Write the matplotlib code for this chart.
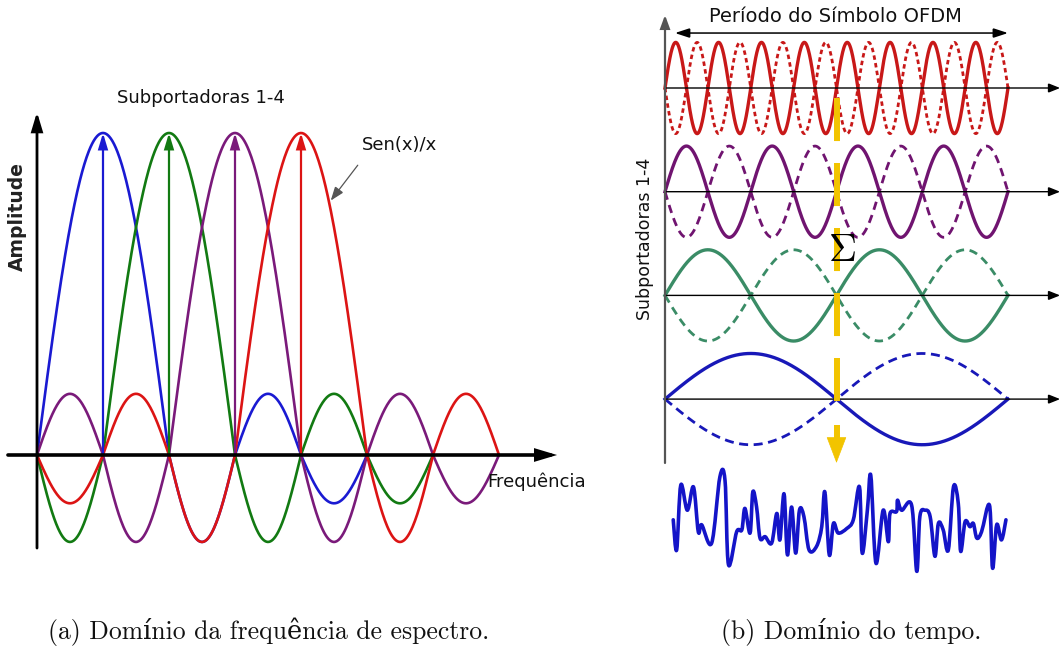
import numpy as np
import matplotlib
matplotlib.use('Agg')
import matplotlib.pyplot as plt
from matplotlib.patches import FancyArrowPatch, PathPatch
from matplotlib.path import Path
from matplotlib import font_manager

plt.rcParams['mathtext.fontset'] = 'cm'
plt.rcParams['lines.scale_dashes'] = False

# ---------------- data ----------------
# (a) spectrum: four overlapping sinc-like subcarriers
spec_centers = [1, 2, 3, 4]                       # peak positions (subcarrier spacing units)
spec_colors = ['#1a1ad2', '#127a12', '#7a1a7a', '#dc1414']
main_amp = 1.0
sidelobe_amps = [-0.27, 0.19, -0.15]              # successive side lobes
freq_min, freq_max = 0, 7

# (b) time domain: subcarriers 1-4 (top to bottom)
time_cycles = [8, 4, 2, 1]
time_colors = ['#c81818', '#701470', '#3a8c66', '#1818b8']
time_dash = [(3.2, 2.4), (6.0, 4.0), (6.0, 4.0), (6.5, 4.0)]
time_amp = 0.44

# summed OFDM signal
noise_t = [0.024, 0.034, 0.046, 0.065, 0.083, 0.097, 0.107, 0.136, 0.160, 0.175,
           0.185, 0.209, 0.224, 0.233, 0.248, 0.256, 0.267, 0.277, 0.292, 0.311,
           0.326, 0.335, 0.347, 0.357, 0.369, 0.381, 0.392, 0.405, 0.420, 0.442,
           0.457, 0.466, 0.479, 0.491, 0.505, 0.530, 0.549, 0.567, 0.575, 0.590,
           0.600, 0.615, 0.636, 0.651, 0.656, 0.675, 0.678, 0.690, 0.719, 0.734,
           0.743, 0.758, 0.773, 0.787, 0.797, 0.811, 0.826, 0.841, 0.855, 0.862,
           0.875, 0.889, 0.899, 0.909, 0.923, 0.946, 0.955, 0.967, 0.981, 0.994]
noise_amp = [0.07, -0.59, 0.83, 0.28, 0.79, -0.19, -0.04, -0.44, 1.01, 0.93,
             -0.91, -0.19, -0.15, 0.32, -0.22, 0.68, 0.35, -0.33, -0.30, -0.44,
             0.21, -0.37, 0.64, -0.70, 0.35, -0.66, 0.28, 0.14, -0.59, -0.51,
             -0.08, 0.68, -0.70, -0.01, -0.22, -0.12, 0.07, 0.79, -0.66, 0.28,
             1.04, -0.88, 0.28, -0.41, 0.21, 0.25, 0.50, 0.28, 0.39, -1.06,
             0.14, 0.28, 0.14, -0.73, -0.01, -0.15, -0.59, 0.79, 0.43, -0.62,
             0.03, -0.08, -0.01, -0.33, -0.19, 0.39, -0.99, -0.04, -0.37, 0.07]

# ---------------- figure ----------------
W, H = 1062, 646
fig = plt.figure(figsize=(W / 100, H / 100), dpi=100)
fig.patch.set_facecolor('white')

# narrow font for the spectrum labels if available
_names = {f.name for f in font_manager.fontManager.ttflist}
if 'Liberation Sans Narrow' in _names:
    narrow = dict(family='Liberation Sans Narrow', fontsize=15.5)
else:
    narrow = dict(family='DejaVu Sans', fontsize=13)


def arrow(ax, p0, p1, style, ms, color, lw, z=5):
    ax.add_patch(FancyArrowPatch(p0, p1, arrowstyle=style, mutation_scale=ms, color=color,
                                 lw=lw, shrinkA=0, shrinkB=0, zorder=z, joinstyle='miter'))


# ----- (a) frequency domain -----
ax1 = fig.add_axes([0, (H - 560) / H, 600 / W, 480 / H])
ax1.set_xlim(-37 / 66, (600 - 37) / 66)
ax1.set_ylim((455 - 560) / 322, (455 - 80) / 322)
ax1.axis('off')


def sinc_like(u, c):
    d = u - c
    y = np.zeros_like(u)
    m = np.abs(d) <= 1
    y[m] = main_amp * np.cos(np.pi * d[m] / 2)
    for k, a in enumerate(sidelobe_amps, start=1):
        m = (np.abs(d) > k) & (np.abs(d) <= k + 1)
        y[m] = a * np.abs(np.sin(np.pi * d[m]))
    return y


for c, col in zip(spec_centers, spec_colors):
    lo = max(freq_min, c - 1 - len(sidelobe_amps))
    hi = min(freq_max, c + 1 + len(sidelobe_amps))
    u = np.linspace(lo, hi, 600)
    ax1.plot(u, sinc_like(u, c), color=col, lw=1.9, solid_capstyle='round', zorder=3)
    arrow(ax1, (c, 0), (c, main_amp), '-|>,head_length=0.5,head_width=0.15', 18, col, 1.6, 4)

# axes arrows
arrow(ax1, (0, -0.289), (0, 1.065), '-|>,head_length=0.6,head_width=0.18', 18, 'black', 2.0)
arrow(ax1, (-0.44, 0), (7.88, 0), '-|>,head_length=0.6,head_width=0.18', 18, 'black', 2.6)

ax1.text(-0.29, 0.74, 'Amplitude', rotation=90, ha='center', va='center', fontsize=13.5,
         fontweight='bold', color='#222222')
ax1.text(2.48, 1.11, 'Subportadoras 1-4', ha='center', va='center', color='#111111', **narrow)
ax1.text(4.92, 0.963, 'Sen(x)/x', ha='left', va='center', color='#111111', **narrow)
ax1.text(6.82, -0.084, 'Frequência', ha='left', va='center', color='#111111', **narrow)
arrow(ax1, (4.86, 0.90), (4.45, 0.79), '-|>,head_length=0.6,head_width=0.22', 14, '#555555', 0.9, 6)

# ----- (b) time domain -----
ax2 = fig.add_axes([630 / W, (H - 600) / H, 432 / W, 600 / H])
ax2.set_xlim(-35 / 343, 397 / 343)
ax2.set_ylim((600 - 88) / 103.7, -88 / 103.7)
ax2.axis('off')

t = np.linspace(0, 1, 1200)
for row, (n, col, dsh) in enumerate(zip(time_cycles, time_colors, time_dash)):
    ax2.plot(t, row + time_amp * np.sin(2 * np.pi * n * t), color=col, lw=2.0,
             linestyle=(0, dsh), zorder=3)
    ax2.plot(t, row - time_amp * np.sin(2 * np.pi * n * t), color=col, lw=2.4, zorder=3)
    arrow(ax2, (0, row), (1.152, row), '-|>,head_length=0.5,head_width=0.2', 14, 'black', 1.0, 4)

# vertical axis
arrow(ax2, (0, 3.616), (0, -0.704), '-|>,head_length=0.55,head_width=0.2', 14, '#555555', 1.6, 4)
# symbol period arrow
arrow(ax2, (0.029, -0.53), (1.0, -0.53), '<|-|>,head_length=0.55,head_width=0.18', 16, 'black', 1.1, 4)
ax2.text(0.496, -0.685, 'Período do Símbolo OFDM', ha='center', va='center', fontsize=14,
         color='#111111')
ax2.text(-0.058, 1.456, 'Subportadoras 1-4', rotation=90, ha='center', va='center', fontsize=12.5,
         color='#111111')

# yellow summation line
yl = lambda px: (px - 88) / 103.7
ax2.plot([0.5, 0.5], [yl(98), yl(420)], color='#f2c400', lw=4.3,
         linestyle=(0, (31, 15.8)), zorder=6, solid_capstyle='butt')
ax2.plot([0.5, 0.5], [yl(425), yl(440)], color='#f2c400', lw=4.3, solid_capstyle='butt', zorder=6)
arrow(ax2, (0.5, yl(438)), (0.5, yl(463)), '-|>,head_length=1.1,head_width=0.42', 16, '#f2c400', 0.5, 6)
ax2.text(0.515, 1.56, r'$\Sigma$', ha='center', va='center', fontsize=28, color='black', zorder=7)

# summed signal, drawn as a smooth Bezier path through the read points
noise_center = yl(523)
px = np.array(noise_t)
py = noise_center - time_amp * np.array(noise_amp)
P = np.column_stack([px, py])
Pe = np.vstack([P[0], P, P[-1]])
verts = [P[0]]
codes = [Path.MOVETO]
for i in range(len(P) - 1):
    p0, p1, p2, p3 = Pe[i], Pe[i + 1], Pe[i + 2], Pe[i + 3]
    verts += [p1 + (p2 - p0) / 6, p2 - (p3 - p1) / 6, p2]
    codes += [Path.CURVE4] * 3
ax2.add_patch(PathPatch(Path(verts, codes), facecolor='none', edgecolor='#1414c8', lw=2.6,
                        joinstyle='round', capstyle='round', zorder=3))

# ----- captions -----
cap = dict(family=['cmr10', 'DejaVu Serif'], fontsize=18.5, ha='center', va='center', color='#111111')
fig.text(268.5 / W, 1 - 632 / H, '(a) Domínio da frequência de espectro.', **cap)
fig.text(851.5 / W, 1 - 632 / H, '(b) Domínio do tempo.', **cap)

fig.savefig('out.png', dpi=100, facecolor='white')
